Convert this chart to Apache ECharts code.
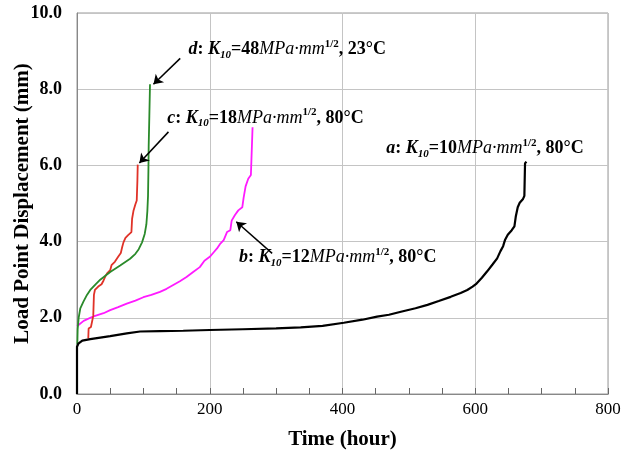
<!DOCTYPE html>
<html>
<head>
<meta charset="utf-8">
<script src="https://cdn.jsdelivr.net/npm/echarts@6/dist/echarts.min.js"></script>
<style>html,body{margin:0;padding:0;background:#fff;}#c{width:622px;height:453px;}</style>
</head>
<body>
<div id="c"></div>
<script>
// Tick values
var xTicks = [0, 200, 400, 600, 800];
var yTicks = [0, 2, 4, 6, 8, 10];

// Curve a: K10=10, 80°C (black)
var seriesA = [[0,0],[0,1.24],[2,1.32],[8,1.4],[20,1.44],[35,1.48],[50,1.52],[75,1.59],[95,1.64],[125,1.65],[160,1.66],[200,1.68],[250,1.7],[300,1.72],[337,1.75],[370,1.79],[402,1.87],[430,1.95],[452,2.03],[470,2.08],[488,2.16],[510,2.25],[528,2.34],[545,2.44],[563,2.55],[578,2.65],[588,2.73],[596,2.82],[602,2.9],[610,3.05],[618,3.22],[626,3.4],[633,3.56],[638,3.75],[642,3.88],[645,4.05],[649,4.18],[655,4.3],[659,4.4],[661,4.65],[664,4.9],[667,5.02],[672,5.12],[674,5.2],[675,6.05],[677,6.1]];

// Curve b: K10=12, 80°C (magenta)
var seriesB = [[0,1.78],[3,1.83],[10,1.92],[25,2.04],[40,2.12],[50,2.2],[62,2.28],[75,2.37],[88,2.45],[100,2.54],[112,2.6],[125,2.68],[135,2.76],[145,2.86],[155,2.96],[165,3.07],[175,3.2],[185,3.33],[192,3.5],[200,3.6],[206,3.72],[211,3.82],[216,3.95],[221,4.04],[226,4.25],[231,4.3],[233,4.55],[238,4.7],[243,4.82],[249,4.9],[251,5.15],[254,5.45],[258,5.65],[262,5.75],[264,5.8],[264.5,7.0]];

// Curve c: K10=18, 80°C (red)
var seriesC = [[17,1.46],[17.5,1.72],[21,1.76],[23,1.8],[24.5,2.05],[25.5,2.6],[27,2.73],[32,2.82],[37,2.88],[40,2.98],[43,3.1],[46,3.18],[50,3.25],[52,3.38],[57,3.47],[62,3.6],[66,3.7],[68,3.85],[70,3.98],[73,4.1],[77,4.17],[82,4.25],[83,4.6],[85,4.8],[88,4.98],[90,5.08],[91,5.6],[91.5,6.02]];

// Curve d: K10=48, 23°C (green)
var seriesD = [[0.5,1.3],[1,1.7],[2.5,2.0],[5,2.25],[9.5,2.42],[15,2.6],[20,2.73],[28,2.88],[35,3.0],[50,3.2],[65,3.37],[80,3.55],[88,3.68],[93,3.8],[98,3.98],[102,4.2],[104.5,4.45],[106,4.8],[107,5.2],[107.6,5.88],[108,6.5],[109,7.3],[110,8.13]];

// Annotation texts
var labelTexts = [
  '{it|d}{b|: }{it|K}{sub|10}{b|=48}{mi|MPa·mm}{sup|1/2}{b|, 23°C}',
  '{it|c}{b|: }{it|K}{sub|10}{b|=18}{mi|MPa·mm}{sup|1/2}{b|, 80°C}',
  '{it|b}{b|: }{it|K}{sub|10}{b|=12}{mi|MPa·mm}{sup|1/2}{b|, 80°C}',
  '{it|a}{b|: }{it|K}{sub|10}{b|=10}{mi|MPa·mm}{sup|1/2}{b|, 80°C}'
];

var FONT = 'Liberation Serif';
var rich = {
  it: {fontFamily: FONT, fontSize: 18, fontStyle: 'italic', fontWeight: 'bold', color: '#000', lineHeight: 22},
  b: {fontFamily: FONT, fontSize: 18, fontWeight: 'bold', color: '#000', lineHeight: 22},
  mi: {fontFamily: FONT, fontSize: 18, fontStyle: 'italic', fontWeight: 'normal', color: '#000', lineHeight: 22},
  sub: {fontFamily: FONT, fontSize: 11, fontStyle: 'italic', fontWeight: 'bold', color: '#000', verticalAlign: 'bottom', lineHeight: 22},
  sup: {fontFamily: FONT, fontSize: 11, fontWeight: 'bold', color: '#000', verticalAlign: 'top', lineHeight: 22}
};

var labelAt = [[168, 9.04], [136, 7.24], [244, 3.59], [466, 6.45]];
var arrows = [
  [[155.5, 8.81], [115.2, 8.13]],
  [[137.8, 6.88], [94, 6.06]],
  [[294, 3.69], [240, 4.52]]
];

var chart = echarts.init(document.getElementById('c'), null, {renderer: 'canvas'});
var tickStyle = {color: '#666', width: 1};
var option = {
  animation: false,
  backgroundColor: '#fff',
  grid: {left: 77, right: 14, top: 13, bottom: 59, containLabel: false, outerBoundsMode: 'none',
    show: true, borderColor: '#999', borderWidth: 1},
  xAxis: [{
    type: 'value', min: xTicks[0], max: xTicks[xTicks.length - 1], interval: 200,
    name: 'Time (hour)', nameLocation: 'middle', nameGap: 35, nameMoveOverlap: false,
    nameTextStyle: {fontFamily: FONT, fontSize: 21, fontWeight: 'bold', color: '#000'},
    axisLine: {show: true, lineStyle: {color: '#888', width: 1}},
    axisTick: {show: true, inside: true, length: 5, lineStyle: tickStyle},
    axisLabel: {fontFamily: FONT, fontSize: 17, color: '#000', margin: 7},
    splitLine: {show: true, lineStyle: {color: '#c4c4c4', width: 1}}
  }, {
    type: 'value', position: 'bottom', offset: 0, min: xTicks[0], max: xTicks[xTicks.length - 1], interval: 50,
    axisLine: {show: true, lineStyle: {color: '#888', width: 1}},
    axisTick: {show: true, inside: true, length: 6, lineStyle: tickStyle},
    axisLabel: {show: false},
    splitLine: {show: false}
  }],
  yAxis: {
    type: 'value', min: yTicks[0], max: yTicks[yTicks.length - 1], interval: 2,
    name: 'Load Point Displacement (mm)', nameLocation: 'middle', nameGap: 44, nameMoveOverlap: false,
    nameTextStyle: {fontFamily: FONT, fontSize: 21, fontWeight: 'bold', color: '#000'},
    axisLine: {show: true, lineStyle: {color: '#888', width: 1}},
    axisTick: {show: false},
    axisLabel: {fontFamily: FONT, fontSize: 18, fontWeight: 'bold', color: '#000', margin: 15,
      formatter: function (v) { return v.toFixed(1); }},
    splitLine: {show: true, lineStyle: {color: '#c4c4c4', width: 1}}
  },
  series: [
    {type: 'line', data: seriesA, symbol: 'none', lineStyle: {color: '#000', width: 2.2}, z: 5,
      markPoint: {symbol: 'circle', symbolSize: 0, silent: true, data: [
        {coord: labelAt[3], label: {show: true, position: [0, 0], align: 'left', verticalAlign: 'middle', formatter: labelTexts[3], rich: rich}}
      ]}},
    {type: 'line', data: seriesB, symbol: 'none', lineStyle: {color: '#ff1aff', width: 1.8}, z: 4,
      markPoint: {symbol: 'circle', symbolSize: 0, silent: true, data: [
        {coord: labelAt[2], label: {show: true, position: [0, 0], align: 'left', verticalAlign: 'middle', formatter: labelTexts[2], rich: rich}}
      ]}},
    {type: 'line', data: seriesC, symbol: 'none', lineStyle: {color: '#e03228', width: 1.8}, z: 4,
      markPoint: {symbol: 'circle', symbolSize: 0, silent: true, data: [
        {coord: labelAt[1], label: {show: true, position: [0, 0], align: 'left', verticalAlign: 'middle', formatter: labelTexts[1], rich: rich}}
      ]}},
    {type: 'line', data: seriesD, symbol: 'none', lineStyle: {color: '#2a8a2a', width: 1.8}, z: 4,
      markPoint: {symbol: 'circle', symbolSize: 0, silent: true, data: [
        {coord: labelAt[0], label: {show: true, position: [0, 0], align: 'left', verticalAlign: 'middle', formatter: labelTexts[0], rich: rich}}
      ]},
      markLine: {silent: true, symbol: ['none', 'arrow'], symbolSize: 9, label: {show: false},
        lineStyle: {color: '#000', width: 1.5, type: 'solid'},
        data: arrows.map(function (a) { return [{coord: a[0]}, {coord: a[1]}]; })}}
  ]
};
chart.setOption(option);
</script>
</body>
</html>
